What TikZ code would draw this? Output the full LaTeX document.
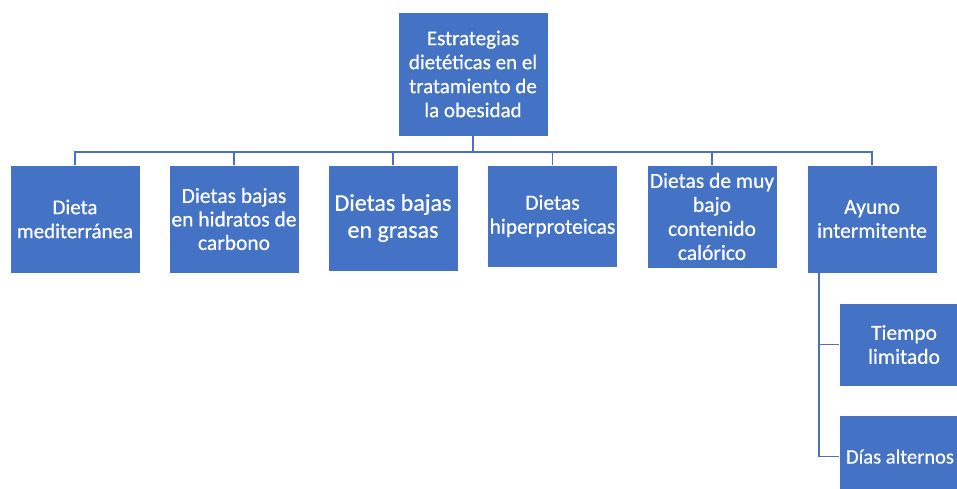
\documentclass[tikz,border=0pt]{standalone}
\usepackage{fontspec}
\setmainfont{Carlito}[FakeBold=0.6]
\definecolor{boxblue}{HTML}{4472C4}
\definecolor{lineblue}{HTML}{4A72B8}
\begin{document}
\begin{tikzpicture}[x=1pt,y=-1pt,
  box/.style={draw=white, line width=0.6pt, fill=boxblue, text=white, align=center, inner sep=0pt, minimum width=130pt, font=\fontsize{21.5}{24}\selectfont},
  conn/.style={draw=lineblue, line width=1.4pt}]
\useasboundingbox (0,0) rectangle (957,489);
\clip (0,0) rectangle (957,489);
\node[box, minimum width=150pt, minimum height=124pt, font=\fontsize{21}{24}\selectfont] (top) at (473,74) {Estrategias\\dietéticas en el\\tratamiento de\\la obesidad};
\node[box, minimum height=108pt, font=\fontsize{21}{24}\selectfont] (b1) at (75,219) {Dieta\\mediterránea};
\node[box, minimum height=108pt, font=\fontsize{21.5}{23.5}\selectfont] (b2) at (234,219) {Dietas bajas\\en hidratos de\\carbono};
\node[box, minimum height=106pt, font=\fontsize{24}{27}\selectfont] (b3) at (393,218) {Dietas bajas\\en grasas};
\node[box, minimum height=102pt] (b4) at (552.5,216) {Dietas\\hiperproteicas};
\node[box, minimum height=103pt] (b5) at (712,216.5) {Dietas de muy\\bajo\\contenido\\calórico};
\node[box, minimum height=108pt] (b6) at (872,219) {Ayuno\\intermitente};
\node[box, minimum height=83pt] (t1) at (904,344.5) {Tiempo\\limitado};
\node[box, minimum height=83pt, font=\fontsize{20.5}{24}\selectfont] (t2) at (904,456.5) {Días alternos\hspace*{8pt}};
\coordinate (bus) at (0,152);
\coordinate (trunk) at (819,0);
\foreach \b in {b1,b2,b3,b4,b5,b6}{
  \draw[conn] (top.south) -- (top.south |- bus) -| (\b.north);
}
\draw[conn] (b6.south -| trunk) |- (t1.west);
\draw[conn] (b6.south -| trunk) |- (t2.west);
\end{tikzpicture}
\end{document}
